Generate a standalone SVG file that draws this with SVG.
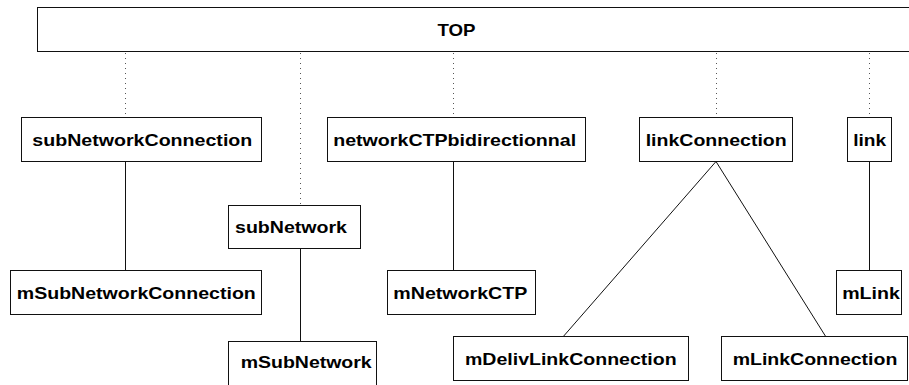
<svg xmlns="http://www.w3.org/2000/svg" width="909" height="385" viewBox="0 0 909 385">
  <style>
    .box { fill: #ffffff; stroke: #111111; stroke-width: 1; }
    .lbl { font-family: "Liberation Sans", Arial, Helvetica, sans-serif; font-weight: bold; font-size: 17px; fill: #000000; text-anchor: middle; }
    .solid { stroke: #111111; stroke-width: 1; fill: none; }
    .dot { stroke: #555555; stroke-width: 1; stroke-dasharray: 1 4; fill: none; }
  </style>
  <rect width="909" height="385" fill="#ffffff"/>

  <!-- connectors -->
  <g id="connectors">
    <line class="dot" x1="125.5" y1="53" x2="125.5" y2="117"/>
    <line class="dot" x1="300.5" y1="53" x2="300.5" y2="205"/>
    <line class="dot" x1="453.5" y1="53" x2="453.5" y2="117"/>
    <line class="dot" x1="716.5" y1="53" x2="716.5" y2="117"/>
    <line class="dot" x1="869.5" y1="53" x2="869.5" y2="117"/>
    <line class="solid" x1="125.5" y1="161.5" x2="125.5" y2="270.5"/>
    <line class="solid" x1="300.5" y1="248.5" x2="300.5" y2="341.5"/>
    <line class="solid" x1="453.5" y1="161.5" x2="453.5" y2="270.5"/>
    <line class="solid" x1="869.5" y1="161.5" x2="869.5" y2="270.5"/>
    <line class="solid" x1="716" y1="161.5" x2="563.3" y2="336.5"/>
    <line class="solid" x1="716" y1="161.5" x2="825.7" y2="336.5"/>
  </g>

  <g id="top">
    <rect class="box" x="37.5" y="7.5" width="890" height="44"/>
    <text class="lbl" x="456.5" y="36" textLength="38" lengthAdjust="spacingAndGlyphs">TOP</text>
  </g>

  <g id="subNetworkConnection">
    <rect class="box" x="21.5" y="117.5" width="240" height="44"/>
    <text class="lbl" x="142.3" y="146" textLength="220" lengthAdjust="spacingAndGlyphs">subNetworkConnection</text>
  </g>

  <g id="mSubNetworkConnection">
    <rect class="box" x="10.5" y="270.5" width="251" height="44"/>
    <text class="lbl" x="136.3" y="299" textLength="239" lengthAdjust="spacingAndGlyphs">mSubNetworkConnection</text>
  </g>

  <g id="subNetwork">
    <rect class="box" x="228.5" y="205.5" width="132" height="43"/>
    <text class="lbl" x="291" y="233" textLength="112" lengthAdjust="spacingAndGlyphs">subNetwork</text>
  </g>

  <g id="mSubNetwork">
    <rect class="box" x="228.5" y="341.5" width="148" height="44"/>
    <text class="lbl" x="306.2" y="367.5" textLength="131" lengthAdjust="spacingAndGlyphs">mSubNetwork</text>
  </g>

  <g id="networkCTPbidirectionnal">
    <rect class="box" x="327.5" y="117.5" width="258" height="44"/>
    <text class="lbl" x="454.7" y="146" textLength="243" lengthAdjust="spacingAndGlyphs">networkCTPbidirectionnal</text>
  </g>

  <g id="mNetworkCTP">
    <rect class="box" x="387.5" y="270.5" width="148" height="44"/>
    <text class="lbl" x="460.3" y="299" textLength="134" lengthAdjust="spacingAndGlyphs">mNetworkCTP</text>
  </g>

  <g id="linkConnection">
    <rect class="box" x="639.5" y="117.5" width="153" height="44"/>
    <text class="lbl" x="716.2" y="146" textLength="141" lengthAdjust="spacingAndGlyphs">linkConnection</text>
  </g>

  <g id="link">
    <rect class="box" x="847.5" y="117.5" width="44" height="44"/>
    <text class="lbl" x="869.7" y="146" textLength="33" lengthAdjust="spacingAndGlyphs">link</text>
  </g>

  <g id="mLink">
    <rect class="box" x="836.5" y="270.5" width="65" height="44"/>
    <text class="lbl" x="871" y="299" textLength="57.7" lengthAdjust="spacingAndGlyphs">mLink</text>
  </g>

  <g id="mDelivLinkConnection">
    <rect class="box" x="453.5" y="336.5" width="235" height="44"/>
    <text class="lbl" x="570.8" y="364.5" textLength="211.7" lengthAdjust="spacingAndGlyphs">mDelivLinkConnection</text>
  </g>

  <g id="mLinkConnection">
    <rect class="box" x="721.5" y="336.5" width="186" height="44"/>
    <text class="lbl" x="815" y="364.5" textLength="164.7" lengthAdjust="spacingAndGlyphs">mLinkConnection</text>
  </g>
</svg>
